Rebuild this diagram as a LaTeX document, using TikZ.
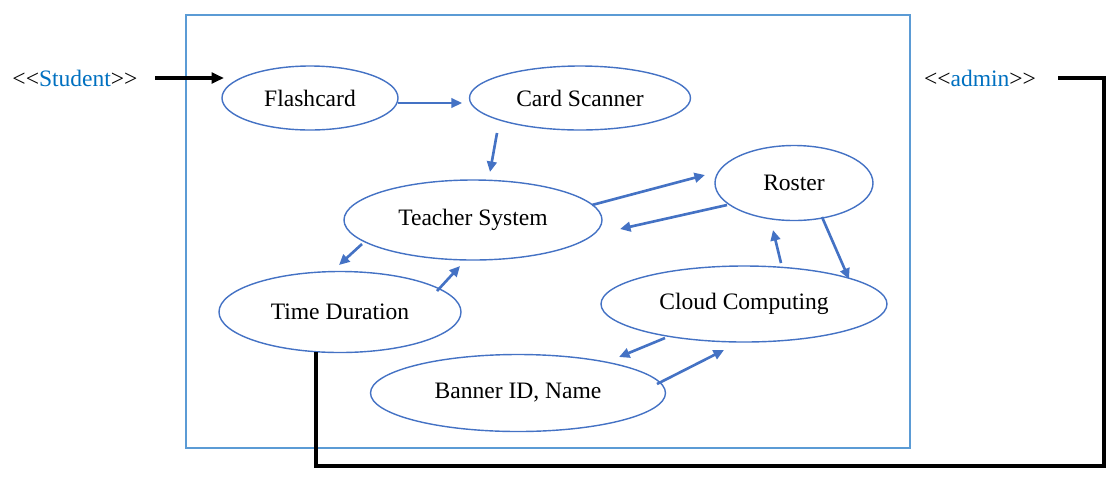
\documentclass[tikz,border=0pt]{standalone}
\usepackage{fontspec}
\setmainfont{Liberation Serif}
\usetikzlibrary{arrows.meta, shapes.geometric}
\definecolor{lineBlue}{HTML}{4472C4}
\definecolor{boxBlue}{HTML}{5B9BD5}
\definecolor{textBlue}{HTML}{0070C0}
\definecolor{mainBlack}{gray}{0}
\newcommand{\stereo}[1]{\mbox{<}\mbox{<}\textcolor{textBlue}{#1}\mbox{>}\mbox{>}}
\tikzset{
  usecase/.style 2 args={ellipse, draw=lineBlue, line width=0.8pt, inner sep=0pt,
    minimum width=#1*0.02cm, minimum height=#2*0.02cm},
  flow/.style={-{Triangle[length=6pt, width=5.5pt]}, line width=1.5pt, lineBlue},
  wire/.style={line width=1.8pt, mainBlack},
}

\begin{document}
\begin{tikzpicture}[x=0.02cm, y=-0.02cm, font=\fontsize{13.4}{15}\selectfont]
    \useasboundingbox (0,0) rectangle (1120,488);

    % System boundary
    \draw[boxBlue, line width=0.7pt] (186,15) rectangle (910,448);

    % Use cases
    \node[usecase={176}{64}] (flash) at (310,98) {Flashcard};
    \node[usecase={221}{64}] (scanner) at (580,98) {Card Scanner};
    \node[usecase={258}{80}] (teacher) at (473,220) {Teacher System};
    \node[usecase={158}{75}] (roster) at (794,183) {Roster};
    \node[usecase={242}{81}] (duration) at (340,312) {Time Duration};
    \node[usecase={286}{76}] (cloud) at (744,304) {Cloud Computing};
    \node[usecase={295}{77}] (banner) at (518,393) {Banner ID, Name};

    % Actors
    \node (student) at (75,78) {\stereo{Student}};
    \node (admin) at (980,78) {\stereo{admin}};

    % Arrow ends
    \coordinate (s1) at (155,78);   \coordinate (s2) at (224,78);
    \coordinate (a1) at (1058,78);  \coordinate (a2) at (316,352);
    \coordinate (f1) at (398,103);  \coordinate (f2) at (462,103);
    \coordinate (c1) at (497,133);  \coordinate (c2) at (490,172);
    \coordinate (t1) at (592,205);  \coordinate (t2) at (705,175);
    \coordinate (r1) at (727,205);  \coordinate (r2) at (620,229);
    \coordinate (t3) at (362,244);  \coordinate (t4) at (339,265);
    \coordinate (d1) at (437,291);  \coordinate (d2) at (460,266);
    \coordinate (r3) at (822,217);  \coordinate (r4) at (849,279);
    \coordinate (k1) at (781,263);  \coordinate (k2) at (773,230);
    \coordinate (k3) at (665,338);  \coordinate (k4) at (619,357);
    \coordinate (b1) at (657,384);  \coordinate (b2) at (724,350);

    \draw[wire, -{Triangle[length=7pt, width=6pt]}] (s1) -- (s2);
    \draw[wire] (a1) -| (1104,466) -| (a2);

    \draw[flow, line width=0.9pt] (f1) -- (f2);
    \draw[flow] (c1) -- (c2);
    \draw[flow] (t1) -- (t2);
    \draw[flow] (r1) -- (r2);
    \draw[flow] (t3) -- (t4);
    \draw[flow] (d1) -- (d2);
    \draw[flow] (r3) -- (r4);
    \draw[flow] (k1) -- (k2);
    \draw[flow] (k3) -- (k4);
    \draw[flow] (b1) -- (b2);
\end{tikzpicture}
\end{document}
